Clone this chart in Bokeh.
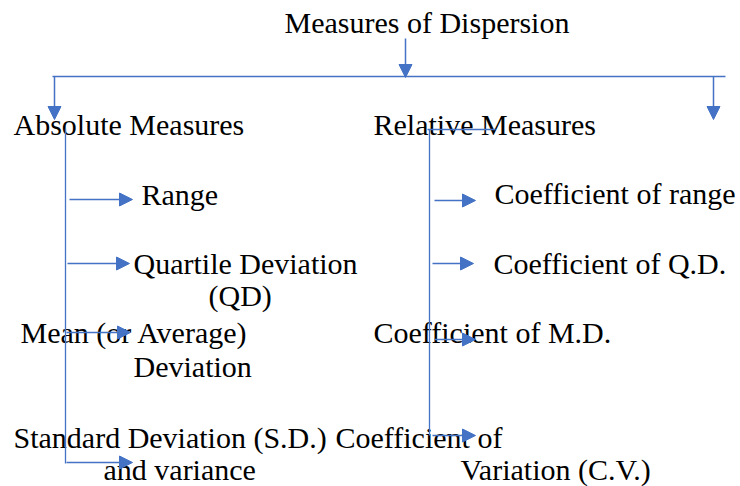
from bokeh.plotting import figure
from bokeh.models import Range1d, ColumnDataSource, Arrow, NormalHead
from bokeh.core.properties import value
from bokeh.embed import file_html
from bokeh.resources import INLINE

# ---- content ----
title_label = "Measures of Dispersion"
group_labels = ["Absolute Measures", "Relative Measures"]
absolute_items = ["Range", "Quartile Deviation", "(QD)", "Mean (or Average)",
                  "Deviation", "Standard Deviation (S.D.)", "and variance"]
relative_items = ["Coefficient of range", "Coefficient of Q.D.", "Coefficient of M.D.",
                  "Coefficient of", "Variation (C.V.)"]

# ---- layout (picture pixel positions: left x, text baseline y) ----
title_pos = (284, 22)
group_pos = [(13, 124), (373, 124)]
absolute_pos = [(141, 194), (133, 263), (208, 295), (20, 332), (133, 366), (13, 437), (103, 469)]
relative_pos = [(494, 193), (493, 263), (373, 332), (335, 437), (460, 469)]

plain_lines = [((52, 76), (725, 76)), ((65, 128), (65, 463)),
               ((427, 129), (495, 129)), ((429, 129), (429, 435))]
arrows = [((405, 38), (405, 77)), ((54, 76), (54, 119)), ((713, 76), (713, 119)),
          ((69, 199), (132, 199)), ((67, 263), (129, 263)), ((66, 332), (130, 332)),
          ((66, 462), (132, 462)),
          ((434, 200), (475, 200)), ((432, 263), (473, 263)), ((434, 339), (475, 339)),
          ((432, 435), (475, 435))]

BLUE = "#4472C4"
FONT = "Liberation Serif"
SIZE = "30px"

W, H = 740, 486
p = figure(width=W, height=H, output_backend="svg", toolbar_location=None,
           x_range=Range1d(0, W), y_range=Range1d(H, 0),
           min_border=0, background_fill_color="white", border_fill_color="white")
p.axis.visible = False
p.grid.visible = False
p.outline_line_color = None

texts = [title_label] + group_labels + absolute_items + relative_items
poss = [title_pos] + group_pos + absolute_pos + relative_pos
src = ColumnDataSource(dict(x=[q[0] for q in poss], y=[q[1] for q in poss], t=texts))
p.text(x="x", y="y", text="t", source=src, text_font=value(FONT), text_font_size=SIZE,
       text_color="black", text_align="left", text_baseline="alphabetic")

p.segment(x0=[l[0][0] for l in plain_lines], y0=[l[0][1] for l in plain_lines],
          x1=[l[1][0] for l in plain_lines], y1=[l[1][1] for l in plain_lines],
          line_color=BLUE, line_width=1.3)

for (s, e) in arrows:
    p.add_layout(Arrow(end=NormalHead(size=13, fill_color=BLUE, line_color=BLUE, line_width=1),
                       x_start=s[0], y_start=s[1], x_end=e[0], y_end=e[1],
                       line_color=BLUE, line_width=1.5))

open("out.html", "w").write(file_html(p, INLINE))
